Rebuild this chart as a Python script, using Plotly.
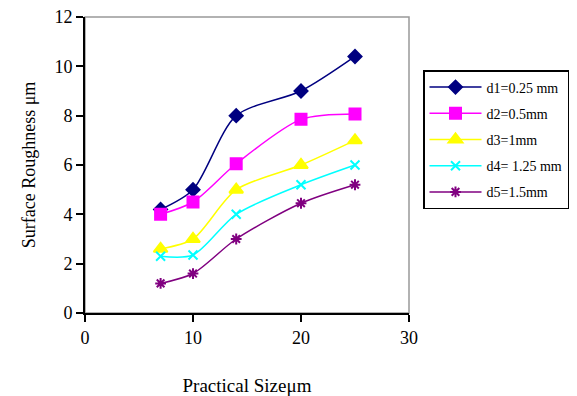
import plotly.graph_objects as go

x_vals = [7, 10, 14, 20, 25]
d1 = [4.2, 5.0, 8.0, 9.0, 10.4]
d2 = [4.0, 4.5, 6.05, 7.85, 8.07]
d3 = [2.6, 3.0, 5.0, 6.0, 7.0]
d4 = [2.3, 2.35, 4.0, 5.2, 6.0]
d5 = [1.2, 1.6, 3.0, 4.45, 5.2]
names = ["d1=0.25 mm", "d2=0.5mm", "d3=1mm", "d4= 1.25 mm", "d5=1.5mm"]
colors = ["#000080", "#FF00FF", "#FFFF00", "#00FFFF", "#800080"]
symbols = ["diamond", "square", "triangle-up", "x-thin-open", "asterisk-open"]
sizes = [10, 11, 12, 9, 9]
series = [d1, d2, d3, d4, d5]

fig = go.Figure()
for i, (ys, nm, c, s, sz) in enumerate(zip(series, names, colors, symbols, sizes)):
    fig.add_trace(go.Scatter(
        x=x_vals, y=ys, name=nm, mode="lines+markers",
        line=dict(color=c, width=1.5, shape="spline", smoothing=0.8),
        marker=dict(symbol=s, size=sz, color=c, line=dict(color=c, width=2)),
        legendgroup=f"g{i}",
    ))

font = "Liberation Serif, Times New Roman, serif"
fig.update_layout(
    width=577, height=396,
    margin=dict(l=85, r=168, t=17, b=83, autoexpand=False),
    paper_bgcolor="white", plot_bgcolor="white",
    font=dict(family=font, size=18, color="black"),
    showlegend=True,
    legend=dict(xref="container", yref="container", x=423 / 577, y=1 - 70 / 396,
                xanchor="left", yanchor="top",
                bordercolor="black", borderwidth=1.5,
                font=dict(family=font, size=14),
                tracegroupgap=5, itemwidth=52),
    xaxis=dict(range=[0, 30], tickvals=[0, 10, 20, 30], showgrid=False, zeroline=False,
               showline=True, linecolor="black", linewidth=2, ticks="outside",
               ticklen=7, tickwidth=2, tickcolor="black", automargin=False,
               tickfont=dict(size=18),
               title=dict(text="Practical Sizeμm", font=dict(size=19), standoff=32)),
    yaxis=dict(range=[0, 12], tickvals=[0, 2, 4, 6, 8, 10, 12], showgrid=False, zeroline=False,
               showline=True, linecolor="black", linewidth=2, ticks="outside",
               ticklen=7, tickwidth=2, tickcolor="black", automargin=False,
               tickfont=dict(size=18),
               title=dict(text="Surface Roughness μm", font=dict(size=18), standoff=14)),
)
fig.add_shape(type="rect", xref="paper", yref="paper", x0=0, y0=0, x1=1, y1=1,
              line=dict(color="#999999", width=1.5), layer="below")
fig.write_html("out.html")
